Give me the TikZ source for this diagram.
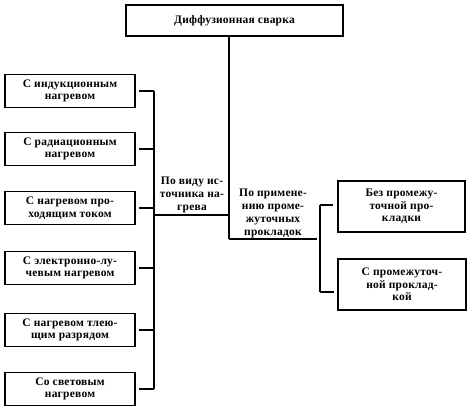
\documentclass[tikz,border=0pt]{standalone}
\usepackage{fontspec}
\setmainfont[LetterSpace=2]{Liberation Serif}
\usepackage{tikz}
\usetikzlibrary{calc}

\tikzset{
  box/.style={draw, line width=1.3pt, minimum width=130pt, minimum height=33pt, align=center, inner sep=0pt, font=\bfseries\fontsize{11.5}{12.5}\selectfont},
  txt/.style={align=center, inner sep=0pt, font=\bfseries\fontsize{11.5}{13}\selectfont},
  link/.style={-, line width=1.3pt}
}

\begin{document}
\begin{tikzpicture}[x=1pt,y=-1pt]
  \useasboundingbox (0,0) rectangle (472,413);
  \draw (234.5,20.5) node[box,minimum width=217pt,minimum height=31pt] (svarka) {Диффузионная сварка};
    \draw (70,91) node[box] (ind) {С индукционным\\нагревом};
    \draw (70,149) node[box] (rad) {С радиационным\\нагревом};
    \draw (70,208) node[box] (tok) {С нагревом про-\\ходящим током};
    \draw (70,268) node[box] (luch) {С электронно-лу-\\чевым нагревом};
    \draw (70,330) node[box] (tle) {С нагревом тлею-\\щим разрядом};
    \draw (70,389) node[box] (svet) {Со световым\\нагревом};
      \draw (192,195) node[txt] (vid) {По виду ис-\\точника на-\\грева};
      \draw (273,213) node[txt] (prim) {По примене-\\нию проме-\\жуточных\\прокладок};
	\draw (401.5,206.5) node[box,minimum width=127pt,minimum height=51pt] (bez) {Без промежу-\\точной про-\\кладки};
	\draw (402,284.5) node[box,minimum width=128pt,minimum height=51pt] (spr) {С промежуточ-\\ной проклад-\\кой};

  \coordinate (lbus) at (154,91);
  \coordinate (lbus2) at (154,389);
  \coordinate (vidline) at (154,215);
  \coordinate (spine) at (229,239);
  \coordinate (rbus) at (320,205);
  \coordinate (rbus2) at (320,292);

       \path[link] (svarka.south -| spine) edge (spine);
       \path[link] (lbus) edge (lbus2);
       \foreach \n in {ind,rad,tok,luch,tle,svet}
         \path[link,shorten <=3pt] (\n.east) edge (\n.east -| lbus);
       \path[link] (vidline) edge (vidline -| spine);
       \path[link,shorten >=3pt] (spine) edge (spine -| rbus);
       \path[link] (rbus) edge (rbus2);
	 \path[link,shorten >=4pt] (rbus) edge (rbus -| bez.west);
	 \path[link,shorten >=3pt] (rbus2) edge (rbus2 -| spr.west);

\end{tikzpicture}
\end{document}
